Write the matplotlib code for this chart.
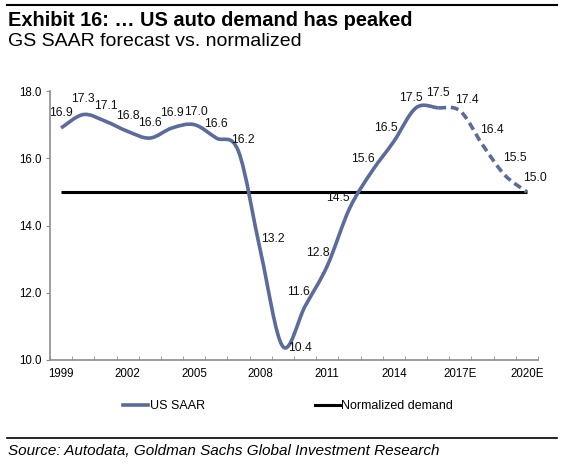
import numpy as np
import matplotlib
matplotlib.use("Agg")
import matplotlib.pyplot as plt
from matplotlib.path import Path
from matplotlib.patches import PathPatch
from matplotlib.lines import Line2D

plt.rcParams['font.family'] = ['Liberation Sans', 'DejaVu Sans']

# data
years = ['1999', '2000', '2001', '2002', '2003', '2004', '2005', '2006', '2007', '2008', '2009',
         '2010', '2011', '2012', '2013', '2014', '2015', '2016', '2017E', '2018E', '2019E', '2020E']
us_saar = [16.9, 17.3, 17.1, 16.8, 16.6, 16.9, 17.0, 16.6, 16.2, 13.2, 10.4,
           11.6, 12.8, 14.5, 15.6, 16.5, 17.5, 17.5, 17.4, 16.4, 15.5, 15.0]
normalized = [15.0] * len(years)
forecast_start = 17  # index of 2016, dashed from here

# label offsets (points) so the labels sit like in the original
lbl_dx = [0, 0, 0, 0, 0, 0, 1, 0, 3, 9, 12, -5, -7, -8, -6, -6, -4, 0, 5, 7, 7, 6]
lbl_dy = [11, 11, 11, 11, 11, 11, 9, 10, 8, 10, -1, 10, 9, 8, 9, 10, 7, 11, 8, 11, 12, 10]

BLUE = '#5a6b9c'
GREY = '#8c8c8c'


def smooth_path(xs, ys):
    # excel style smoothed line, drawn as cubic bezier segments
    n = len(xs)
    verts = [(xs[0], ys[0])]
    codes = [Path.MOVETO]
    for i in range(n - 1):
        i0 = max(i - 1, 0)
        i3 = min(i + 2, n - 1)
        c1 = (xs[i] + (xs[i + 1] - xs[i0]) / 6, ys[i] + (ys[i + 1] - ys[i0]) / 6)
        c2 = (xs[i + 1] - (xs[i3] - xs[i]) / 6, ys[i + 1] - (ys[i3] - ys[i]) / 6)
        verts += [c1, c2, (xs[i + 1], ys[i + 1])]
        codes += [Path.CURVE4] * 3
    return verts, codes


fig = plt.figure(figsize=(5.71, 4.68), dpi=100)
ax = fig.add_axes([50 / 571, 1 - 360 / 468, 488 / 571, 269 / 468])

x = np.arange(len(years))
ax.plot(x, normalized, color='black', lw=2.2, solid_capstyle='butt', zorder=2)

verts, codes = smooth_path(list(x), us_saar)
k = 3 * forecast_start
solid = Path(verts[:k + 1], codes[:k + 1])
dashed = Path(verts[k:], [Path.MOVETO] + codes[k + 1:])
ax.add_patch(PathPatch(solid, fill=False, edgecolor=BLUE, lw=2.6, capstyle='butt', zorder=3))
ax.add_patch(PathPatch(dashed, fill=False, edgecolor=BLUE, lw=2.6, linestyle=(0, (2.2, 1.3)),
                       capstyle='butt', zorder=3))

for i, v in enumerate(us_saar):
    ax.annotate('%.1f' % v, (i, v), xytext=(lbl_dx[i], lbl_dy[i]), textcoords='offset points',
                ha='center', va='center', fontsize=8.75, color='#111111')

ax.set_xlim(-0.5, len(years) - 0.5)
ax.set_ylim(10, 18)
ax.set_yticks([10, 12, 14, 16, 18])
ax.set_yticklabels(['%.1f' % t for t in [10, 12, 14, 16, 18]])
ax.set_xticks(x[::3])
ax.set_xticklabels(years[::3])
ax.set_xticks(np.arange(-0.5, len(years), 1), minor=True)
ax.tick_params(axis='x', which='major', length=0, labelsize=8.3, pad=6)
ax.tick_params(axis='x', which='minor', direction='in', length=3, color=GREY)
ax.tick_params(axis='y', direction='out', length=3, color=GREY, labelsize=8.3, pad=3)
for s in ['top', 'right']:
    ax.spines[s].set_visible(False)
for s in ['left', 'bottom']:
    ax.spines[s].set_color(GREY)
    ax.spines[s].set_linewidth(1.2)

handles = [Line2D([], [], color=BLUE, lw=2.6), Line2D([], [], color='black', lw=2.2)]
fig.legend(handles, ['US SAAR', 'Normalized demand'], loc='center left',
           bbox_to_anchor=(112 / 571, 1 - 406 / 468), ncol=2, frameon=False, fontsize=9,
           handlelength=2.0, handletextpad=0.1, columnspacing=8.8)

fig.text(8 / 571, 1 - 20 / 468, 'Exhibit 16: \u2026 US auto demand has peaked', fontsize=14.4,
         fontweight='bold', va='center', ha='left')
fig.text(8 / 571, 1 - 41 / 468, 'GS SAAR forecast vs. normalized', fontsize=14,
         va='center', ha='left')
fig.text(8 / 571, 1 - 451 / 468, 'Source: Autodata, Goldman Sachs Global Investment Research',
         fontsize=11, style='italic', va='center', ha='left')
fig.add_artist(Line2D([7 / 571, 557 / 571], [1 - 5 / 468, 1 - 5 / 468], color='black', lw=1.5))
fig.add_artist(Line2D([7 / 571, 557 / 571], [1 - 438 / 468, 1 - 438 / 468], color='black', lw=1.2))

fig.savefig('out.png', dpi=100)
